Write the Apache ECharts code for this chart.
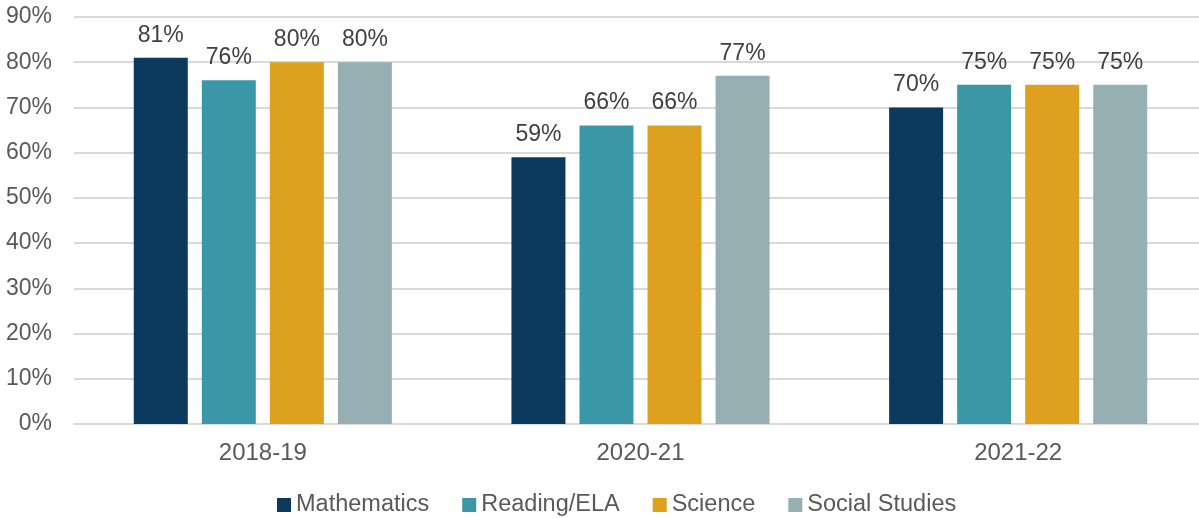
<!DOCTYPE html>
<html>
<head>
<meta charset="utf-8">
<script src="https://cdn.jsdelivr.net/npm/echarts@6/dist/echarts.min.js"></script>
<style>
  html, body { margin: 0; padding: 0; background: #fff; overflow: hidden; }
  /* the plot area runs a few pixels past the visible right edge */
  #chart { width: 1207px; height: 518px; }
</style>
</head>
<body>
<div id="chart"></div>
<script>
// School years on the x axis
const years = ['2018-19', '2020-21', '2021-22'];

// Percent proficient by subject, one value per school year
const mathematics = [81, 59, 70];
const readingELA = [76, 66, 75];
const science = [80, 66, 75];
const socialStudies = [80, 77, 75];

const subjects = ['Mathematics', 'Reading/ELA', 'Science', 'Social Studies'];
const subjectValues = [mathematics, readingELA, science, socialStudies];
const subjectColors = ['#0B3A5E', '#3A98A6', '#DDA01F', '#96AFB3'];

const FONT = 'Liberation Sans, Arial, sans-serif';

const chart = echarts.init(document.getElementById('chart'), null, { renderer: 'canvas' });

chart.setOption({
  animation: false,
  backgroundColor: '#ffffff',
  textStyle: { fontFamily: FONT },
  grid: { left: 74, right: 0, top: 17, bottom: 94 },
  legend: {
    left: 277,
    top: 493,
    padding: 0,
    itemWidth: 14,
    itemHeight: 14,
    itemGap: 33,
    icon: 'rect',
    textStyle: { fontFamily: FONT, fontSize: 23.5, color: '#595959' },
    data: subjects
  },
  xAxis: {
    type: 'category',
    data: years,
    axisTick: { show: false },
    axisLine: { lineStyle: { color: '#d9d9d9', width: 2 } },
    axisLabel: { fontFamily: FONT, fontSize: 24, color: '#595959', margin: 17 }
  },
  yAxis: {
    type: 'value',
    min: 0,
    max: 90,
    interval: 10,
    axisLine: { show: false },
    axisTick: { show: false },
    splitLine: { lineStyle: { color: '#d9d9d9', width: 2 } },
    axisLabel: {
      fontFamily: FONT, fontSize: 23, color: '#595959', margin: 22,
      padding: [8, 0, 0, 0], formatter: '{value}%'
    }
  },
  series: subjects.map((name, i) => ({
    name: name,
    type: 'bar',
    data: subjectValues[i],
    barWidth: 54,
    barGap: '26%',
    itemStyle: { color: subjectColors[i] },
    label: {
      show: true,
      position: 'top',
      distance: 11,
      fontFamily: FONT,
      fontSize: 23,
      color: '#404040',
      formatter: '{c}%'
    }
  }))
});
</script>
</body>
</html>
